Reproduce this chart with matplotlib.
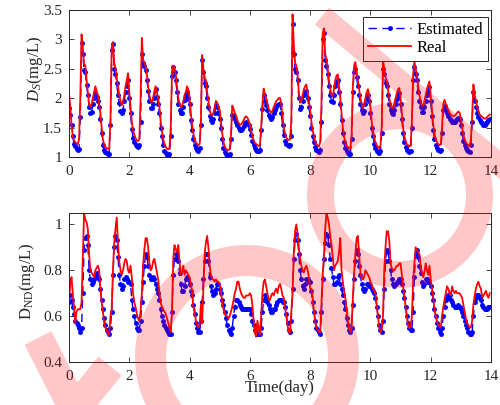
import numpy as np
import matplotlib
matplotlib.use("Agg")
import matplotlib.pyplot as plt
from matplotlib.path import Path
from matplotlib.patches import PathPatch

# ---------------------------------------------------------------- data
# hourly samples over 14 days
hours = np.arange(14 * 24)
time_day = hours / 24.0

# dissolved S (mg/L), real measurements, one row per day (24 hourly values)
ds_real = [
    2.08, 1.85, 1.55, 1.35, 1.28, 1.25, 1.23, 1.22, 1.30, 2.00, 3.08, 2.85, 2.58, 2.55, 2.30, 2.10, 1.90, 1.85, 1.90, 2.00, 2.10, 2.20, 2.12, 2.05,
    1.90, 1.75, 1.50, 1.30, 1.20, 1.17, 1.15, 1.14, 1.13, 1.60, 2.85, 2.95, 2.60, 2.50, 2.35, 2.20, 2.05, 1.95, 1.88, 1.92, 2.05, 2.20, 2.30, 2.42,
    2.10, 1.85, 1.60, 1.45, 1.38, 1.32, 1.28, 1.27, 1.30, 2.00, 3.02, 2.65, 2.60, 2.55, 2.40, 2.20, 2.05, 1.95, 1.93, 2.00, 2.12, 2.20, 2.10, 2.00,
    1.85, 1.60, 1.45, 1.30, 1.22, 1.17, 1.14, 1.13, 1.15, 1.50, 2.45, 2.55, 2.50, 2.40, 2.20, 2.00, 1.90, 1.85, 1.86, 1.95, 2.05, 2.10, 2.20, 2.15,
    2.00, 1.75, 1.55, 1.40, 1.30, 1.25, 1.22, 1.20, 1.22, 1.60, 2.73, 2.50, 2.35, 2.30, 2.10, 1.95, 1.80, 1.72, 1.70, 1.75, 1.85, 1.95, 1.92, 1.85,
    1.80, 1.60, 1.40, 1.25, 1.18, 1.14, 1.12, 1.12, 1.13, 1.40, 1.87, 1.82, 1.75, 1.70, 1.62, 1.58, 1.55, 1.55, 1.58, 1.62, 1.67, 1.69, 1.67, 1.62,
    1.55, 1.45, 1.35, 1.28, 1.24, 1.22, 1.20, 1.19, 1.20, 1.50, 1.90, 2.16, 2.05, 2.00, 1.90, 1.82, 1.78, 1.75, 1.78, 1.85, 1.90, 1.95, 1.97, 2.00,
    2.00, 1.90, 1.70, 1.50, 1.40, 1.33, 1.30, 1.29, 1.30, 1.60, 3.42, 2.90, 2.60, 2.55, 2.40, 2.10, 1.92, 1.95, 2.05, 2.15, 2.20, 2.23, 2.10, 1.95,
    1.80, 1.60, 1.45, 1.35, 1.27, 1.22, 1.19, 1.18, 1.25, 1.90, 3.10, 3.18, 2.75, 2.65, 2.50, 2.30, 2.15, 2.05, 2.03, 2.15, 2.30, 2.38, 2.40, 2.20,
    2.00, 1.75, 1.50, 1.35, 1.25, 1.20, 1.17, 1.15, 1.15, 1.35, 2.20, 2.55, 2.61, 2.45, 2.30, 2.15, 2.00, 1.90, 1.83, 1.88, 2.00, 2.10, 2.15, 2.05,
    1.85, 1.60, 1.45, 1.32, 1.25, 1.20, 1.17, 1.15, 1.20, 1.50, 2.65, 2.50, 2.35, 2.30, 2.15, 2.00, 1.90, 1.85, 1.83, 1.90, 2.00, 2.08, 2.15, 2.17,
    2.00, 1.75, 1.50, 1.35, 1.27, 1.22, 1.20, 1.18, 1.20, 1.60, 2.40, 2.62, 2.50, 2.40, 2.20, 2.05, 1.95, 1.87, 1.87, 1.95, 2.05, 2.15, 2.22, 2.28,
    2.05, 1.80, 1.55, 1.40, 1.30, 1.25, 1.22, 1.20, 1.22, 1.50, 1.90, 1.97, 1.90, 1.85, 1.80, 1.75, 1.72, 1.70, 1.69, 1.70, 1.72, 1.75, 1.77, 1.75,
    1.65, 1.50, 1.38, 1.30, 1.25, 1.22, 1.20, 1.18, 1.30, 1.70, 2.23, 2.05, 1.95, 1.85, 1.78, 1.72, 1.70, 1.68, 1.66, 1.65, 1.66, 1.68, 1.70, 1.72,
]

# dissolved S (mg/L), estimated
ds_est = [
    1.83, 1.72, 1.55, 1.35, 1.22, 1.18, 1.14, 1.12, 1.13, 1.68, 2.93, 2.75, 2.48, 2.45, 2.22, 2.05, 1.85, 1.75, 1.77, 1.90, 2.00, 2.08, 2.02, 1.95,
    1.85, 1.65, 1.40, 1.20, 1.12, 1.08, 1.06, 1.05, 1.05, 1.55, 2.82, 2.92, 2.50, 2.40, 2.25, 2.05, 1.92, 1.78, 1.75, 1.80, 1.95, 2.10, 2.20, 2.30,
    2.00, 1.75, 1.48, 1.32, 1.25, 1.20, 1.18, 1.17, 1.20, 1.60, 2.75, 2.60, 2.55, 2.48, 2.30, 2.12, 1.95, 1.83, 1.83, 1.90, 2.00, 2.15, 2.02, 1.90,
    1.75, 1.50, 1.35, 1.20, 1.10, 1.06, 1.03, 1.02, 1.05, 1.35, 2.37, 2.52, 2.45, 2.30, 2.10, 1.90, 1.80, 1.75, 1.75, 1.85, 1.97, 2.05, 2.10, 2.00,
    1.90, 1.62, 1.45, 1.30, 1.20, 1.15, 1.12, 1.10, 1.15, 1.55, 2.65, 2.45, 2.25, 2.20, 2.00, 1.85, 1.70, 1.62, 1.60, 1.65, 1.75, 1.88, 1.85, 1.75,
    1.65, 1.50, 1.30, 1.15, 1.08, 1.05, 1.03, 1.02, 1.05, 1.30, 1.72, 1.70, 1.65, 1.60, 1.55, 1.50, 1.46, 1.45, 1.48, 1.52, 1.57, 1.60, 1.58, 1.55,
    1.48, 1.38, 1.28, 1.20, 1.15, 1.12, 1.10, 1.10, 1.12, 1.45, 1.82, 2.05, 1.95, 1.88, 1.80, 1.72, 1.68, 1.65, 1.68, 1.75, 1.80, 1.85, 1.88, 1.90,
    1.90, 1.75, 1.55, 1.38, 1.28, 1.22, 1.20, 1.18, 1.20, 1.35, 3.25, 2.75, 2.50, 2.45, 2.30, 2.00, 1.82, 1.85, 1.95, 2.05, 2.10, 2.12, 2.00, 1.85,
    1.70, 1.50, 1.35, 1.25, 1.17, 1.12, 1.10, 1.08, 1.12, 1.60, 3.00, 3.10, 2.65, 2.55, 2.40, 2.20, 2.05, 1.95, 1.93, 2.05, 2.20, 2.28, 2.30, 2.10,
    1.90, 1.62, 1.40, 1.25, 1.15, 1.10, 1.07, 1.05, 1.05, 1.30, 2.10, 2.45, 2.50, 2.35, 2.20, 2.05, 1.90, 1.80, 1.75, 1.78, 1.90, 2.00, 2.05, 1.95,
    1.75, 1.50, 1.35, 1.22, 1.15, 1.10, 1.08, 1.07, 1.10, 1.40, 2.50, 2.40, 2.25, 2.20, 2.05, 1.90, 1.80, 1.75, 1.73, 1.80, 1.90, 1.98, 2.05, 2.08,
    1.90, 1.65, 1.40, 1.25, 1.17, 1.12, 1.10, 1.08, 1.10, 1.50, 2.30, 2.52, 2.40, 2.30, 2.10, 1.95, 1.85, 1.77, 1.77, 1.85, 1.95, 2.05, 2.12, 2.18,
    1.95, 1.70, 1.45, 1.30, 1.20, 1.15, 1.12, 1.10, 1.12, 1.40, 1.80, 1.87, 1.80, 1.75, 1.70, 1.65, 1.62, 1.60, 1.59, 1.60, 1.62, 1.65, 1.67, 1.65,
    1.55, 1.40, 1.28, 1.20, 1.15, 1.12, 1.10, 1.08, 1.20, 1.60, 2.10, 1.95, 1.85, 1.75, 1.68, 1.62, 1.60, 1.57, 1.55, 1.55, 1.57, 1.60, 1.63, 1.65,
]

# dissolved ND (mg/L), real measurements
dnd_real = [
    0.67, 0.74, 0.77, 0.70, 0.64, 0.57, 0.62, 0.63, 0.63, 0.63, 0.66, 0.85, 1.05, 1.02, 1.01, 0.98, 0.87, 0.80, 0.79, 0.78, 0.77, 0.80, 0.81, 0.82,
    0.80, 0.72, 0.66, 0.62, 0.57, 0.55, 0.54, 0.52, 0.52, 0.60, 0.63, 0.80, 0.92, 0.98, 1.03, 0.92, 0.84, 0.80, 0.78, 0.80, 0.83, 0.85, 0.84, 0.80,
    0.79, 0.82, 0.77, 0.70, 0.66, 0.64, 0.61, 0.59, 0.58, 0.62, 0.70, 0.82, 0.89, 0.94, 0.94, 0.90, 0.83, 0.80, 0.81, 0.84, 0.85, 0.82, 0.79, 0.76,
    0.70, 0.66, 0.64, 0.63, 0.62, 0.61, 0.59, 0.57, 0.55, 0.53, 0.62, 0.85, 0.91, 0.89, 0.88, 0.91, 0.84, 0.78, 0.79, 0.82, 0.78, 0.80, 0.79, 0.78,
    0.77, 0.74, 0.71, 0.64, 0.63, 0.58, 0.56, 0.55, 0.56, 0.65, 0.57, 0.72, 0.87, 0.92, 0.95, 0.90, 0.82, 0.78, 0.76, 0.76, 0.75, 0.76, 0.75, 0.75,
    0.74, 0.71, 0.66, 0.63, 0.61, 0.60, 0.60, 0.59, 0.60, 0.62, 0.64, 0.67, 0.70, 0.72, 0.75, 0.75, 0.72, 0.70, 0.69, 0.68, 0.68, 0.69, 0.69, 0.69,
    0.70, 0.69, 0.65, 0.58, 0.53, 0.51, 0.58, 0.55, 0.52, 0.60, 0.70, 0.75, 0.76, 0.73, 0.70, 0.67, 0.67, 0.69, 0.70, 0.69, 0.71, 0.72, 0.70, 0.73,
    0.74, 0.72, 0.69, 0.68, 0.64, 0.60, 0.56, 0.53, 0.53, 0.62, 0.70, 0.88, 0.97, 1.00, 0.96, 0.90, 0.85, 0.82, 0.80, 0.79, 0.81, 0.82, 0.80, 0.77,
    0.72, 0.72, 0.68, 0.62, 0.58, 0.55, 0.54, 0.53, 0.53, 0.65, 0.78, 0.86, 0.98, 1.05, 1.03, 1.00, 0.95, 0.91, 0.86, 0.80, 0.82, 0.83, 0.84, 0.88,
    0.94, 0.80, 0.75, 0.71, 0.68, 0.63, 0.58, 0.55, 0.53, 0.55, 0.68, 0.79, 0.87, 0.94, 0.95, 0.87, 0.79, 0.77, 0.76, 0.77, 0.80, 0.79, 0.78, 0.77,
    0.75, 0.74, 0.72, 0.71, 0.70, 0.65, 0.60, 0.55, 0.53, 0.54, 0.60, 0.80, 0.90, 0.97, 0.97, 0.93, 0.83, 0.81, 0.80, 0.80, 0.81, 0.82, 0.82, 0.83,
    0.83, 0.78, 0.73, 0.69, 0.64, 0.60, 0.56, 0.55, 0.55, 0.60, 0.75, 0.83, 0.90, 0.89, 0.88, 0.87, 0.82, 0.79, 0.77, 0.79, 0.83, 0.80, 0.78, 0.82,
    0.76, 0.72, 0.68, 0.63, 0.60, 0.58, 0.56, 0.56, 0.55, 0.60, 0.64, 0.67, 0.70, 0.73, 0.72, 0.70, 0.69, 0.73, 0.71, 0.70, 0.71, 0.70, 0.70, 0.70,
    0.69, 0.68, 0.65, 0.62, 0.59, 0.57, 0.56, 0.55, 0.55, 0.58, 0.65, 0.69, 0.72, 0.74, 0.75, 0.73, 0.72, 0.68, 0.69, 0.70, 0.71, 0.69, 0.68, 0.70,
]

# dissolved ND (mg/L), estimated
dnd_est = [
    0.66, 0.69, 0.67, 0.64, 0.61, 0.58, 0.57, 0.56, 0.55, 0.53, 0.55, 0.70, 0.89, 0.94, 0.95, 0.91, 0.80, 0.76, 0.74, 0.75, 0.76, 0.78, 0.79, 0.77,
    0.76, 0.72, 0.67, 0.63, 0.59, 0.56, 0.54, 0.53, 0.52, 0.55, 0.62, 0.78, 0.90, 0.95, 0.93, 0.86, 0.78, 0.74, 0.72, 0.73, 0.76, 0.77, 0.76, 0.75,
    0.75, 0.74, 0.67, 0.63, 0.60, 0.57, 0.55, 0.54, 0.54, 0.58, 0.66, 0.75, 0.82, 0.87, 0.86, 0.82, 0.78, 0.76, 0.76, 0.77, 0.76, 0.74, 0.72, 0.70,
    0.67, 0.63, 0.60, 0.58, 0.56, 0.55, 0.54, 0.53, 0.52, 0.52, 0.62, 0.78, 0.85, 0.87, 0.86, 0.84, 0.79, 0.74, 0.71, 0.71, 0.73, 0.76, 0.77, 0.76,
    0.74, 0.71, 0.69, 0.65, 0.61, 0.57, 0.55, 0.53, 0.53, 0.58, 0.66, 0.76, 0.84, 0.87, 0.87, 0.84, 0.77, 0.73, 0.71, 0.69, 0.70, 0.72, 0.74, 0.74,
    0.72, 0.70, 0.67, 0.65, 0.62, 0.59, 0.56, 0.54, 0.53, 0.52, 0.55, 0.60, 0.64, 0.67, 0.67, 0.66, 0.65, 0.64, 0.63, 0.63, 0.63, 0.63, 0.63, 0.63,
    0.63, 0.61, 0.58, 0.56, 0.54, 0.53, 0.52, 0.52, 0.52, 0.55, 0.62, 0.67, 0.69, 0.68, 0.66, 0.65, 0.63, 0.62, 0.62, 0.63, 0.63, 0.65, 0.66, 0.67,
    0.67, 0.67, 0.66, 0.66, 0.64, 0.61, 0.57, 0.54, 0.53, 0.58, 0.72, 0.85, 0.93, 0.96, 0.93, 0.87, 0.80, 0.76, 0.73, 0.72, 0.74, 0.76, 0.76, 0.75,
    0.75, 0.71, 0.66, 0.62, 0.58, 0.55, 0.54, 0.53, 0.52, 0.62, 0.76, 0.85, 0.92, 0.96, 0.95, 0.91, 0.85, 0.81, 0.77, 0.74, 0.74, 0.75, 0.77, 0.78,
    0.74, 0.72, 0.69, 0.66, 0.63, 0.59, 0.56, 0.54, 0.53, 0.55, 0.65, 0.76, 0.84, 0.89, 0.87, 0.82, 0.78, 0.74, 0.72, 0.71, 0.72, 0.74, 0.74, 0.73,
    0.73, 0.72, 0.71, 0.70, 0.68, 0.64, 0.60, 0.56, 0.54, 0.53, 0.58, 0.72, 0.84, 0.89, 0.88, 0.84, 0.80, 0.76, 0.74, 0.73, 0.74, 0.75, 0.75, 0.76,
    0.76, 0.74, 0.71, 0.68, 0.64, 0.60, 0.57, 0.55, 0.54, 0.54, 0.62, 0.77, 0.87, 0.89, 0.86, 0.82, 0.79, 0.75, 0.73, 0.74, 0.76, 0.76, 0.75, 0.75,
    0.73, 0.70, 0.67, 0.63, 0.60, 0.57, 0.55, 0.53, 0.52, 0.55, 0.60, 0.64, 0.67, 0.68, 0.69, 0.69, 0.67, 0.66, 0.65, 0.64, 0.64, 0.64, 0.65, 0.64,
    0.63, 0.62, 0.60, 0.58, 0.56, 0.55, 0.53, 0.52, 0.52, 0.53, 0.60, 0.66, 0.68, 0.69, 0.69, 0.68, 0.67, 0.65, 0.64, 0.63, 0.63, 0.63, 0.64, 0.64,
]

x_ticks = [0, 2, 4, 6, 8, 10, 12, 14]
ds_ticks = [1, 1.5, 2, 2.5, 3, 3.5]
ds_tick_labels = ["1", "1.5", "2", "2.5", "3", "3.5"]
dnd_ticks = [0.4, 0.6, 0.8, 1.0]
dnd_tick_labels = ["0.4", "0.6", "0.8", "1"]

# ---------------------------------------------------------------- style
plt.rcParams["font.family"] = ["Liberation Serif", "DejaVu Serif"]
plt.rcParams["mathtext.fontset"] = "custom"
plt.rcParams["mathtext.rm"] = "Liberation Serif"
plt.rcParams["mathtext.it"] = "Liberation Serif:italic"
dark = (0.15, 0.15, 0.15)

fig = plt.figure(figsize=(5.0, 4.05), dpi=100)
ax1 = fig.add_axes([0.138, 0.6123, 0.844, 0.364])
ax2 = fig.add_axes([0.138, 0.1062, 0.844, 0.368])


def style_axes(ax):
    ax.set_xlim(0, 14)
    ax.set_xticks(x_ticks)
    ax.tick_params(direction="in", top=True, right=True, length=3.5,
                   width=0.6, colors=dark, labelsize=11, pad=5)
    ax.tick_params(axis="x", pad=5.5)
    for sp in ax.spines.values():
        sp.set_color(dark)
        sp.set_linewidth(0.7)


est_style = dict(color="blue", linestyle=(0, (6, 4)), linewidth=1.0,
                 marker=(8, 2, 0), markersize=3.5, markeredgewidth=0.8)
real_style = dict(color="red", linestyle="-", linewidth=1.3)

ax1.plot(time_day, ds_est, label="Estimated", **est_style)
ax1.plot(time_day, ds_real, label="Real", **real_style)
style_axes(ax1)
ax1.set_ylim(1, 3.5)
ax1.set_yticks(ds_ticks, ds_tick_labels)
ax1.set_ylabel(r"$D_S$(mg/L)", fontsize=12, color=dark)
ax1.yaxis.set_label_coords(-0.057, 0.6)
leg = ax1.legend(loc="upper right", bbox_to_anchor=(0.993, 0.952),
                 borderaxespad=0, fontsize=12, handlelength=2.6,
                 handletextpad=0.3, borderpad=0.3, labelspacing=0.15,
                 fancybox=False, framealpha=1)
leg.get_frame().set_edgecolor(dark)
leg.get_frame().set_linewidth(0.7)

ax2.plot(time_day, dnd_est, **est_style)
ax2.plot(time_day, dnd_real, **real_style)
style_axes(ax2)
ax2.set_ylim(0.4, 1.05)
ax2.set_yticks(dnd_ticks, dnd_tick_labels)
ax2.set_ylabel(r"D$_{\mathrm{ND}}$(mg/L)", fontsize=12, color=dark)
ax2.yaxis.set_label_coords(-0.075, 0.54)
ax2.set_xlabel("Time(day)", fontsize=12, color=dark)
ax2.xaxis.set_label_coords(0.5, -0.118)

# ---------------------------------------------------------------- watermark
def _orient(poly, ccw=True):
    x, y = poly[:, 0], poly[:, 1]
    area = 0.5 * np.sum(x * np.roll(y, -1) - np.roll(x, -1) * y)
    return poly if (area > 0) == ccw else poly[::-1]


def _ring(cx, cy, r_out, r_in, n=240):
    a = np.linspace(0, 2 * np.pi, n, endpoint=False)
    outer = np.column_stack([cx + r_out * np.cos(a), cy + r_out * np.sin(a)])
    inner = np.column_stack([cx + r_in * np.cos(a), cy + r_in * np.sin(a)])
    return [_orient(outer, True), _orient(inner, False)]


def _band(p0, p1, w):
    p0 = np.asarray(p0, float)
    p1 = np.asarray(p1, float)
    d = (p1 - p0) / np.hypot(*(p1 - p0))
    nrm = np.array([-d[1], d[0]]) * w / 2
    return [_orient(np.array([p0 + nrm, p1 + nrm, p1 - nrm, p0 - nrm]), True)]


polys = []
polys += _ring(400, 195, 93, 66)
polys += _ring(247, 357, 112, 81)
polys += _band((322, 16), (530, 190), 22)
polys += _band((38, 338), (82, 425), 30)
polys += _band((110, 366), (62, 425), 30)

verts, codes = [], []
for p in polys:
    verts.extend(p.tolist() + [p[0].tolist()])
    codes.extend([Path.MOVETO] + [Path.LINETO] * (len(p) - 1) + [Path.CLOSEPOLY])

wm = fig.add_axes([0, 0, 1, 1], zorder=10)
wm.set_xlim(0, 500)
wm.set_ylim(405, 0)
wm.axis("off")
wm.patch.set_alpha(0)
wm.add_patch(PathPatch(Path(verts, codes), facecolor="red", edgecolor="none",
                       alpha=0.22))

fig.savefig("out.png", dpi=100)
